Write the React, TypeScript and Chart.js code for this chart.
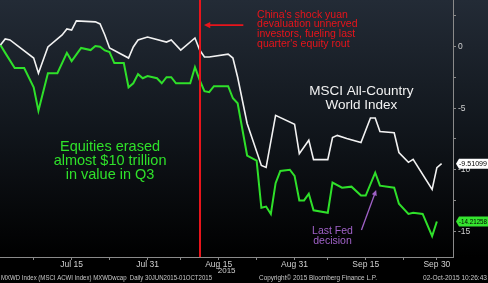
import React, { useEffect, useRef } from "react";
import { Chart, registerables } from "chart.js";

Chart.register(...registerables);

// Days counted from 30 Jun 2015 (day 0)
const xTickDays = [15, 31, 46, 62, 77, 92];
const xTickLabels = ["Jul 15", "Jul 31", "Aug 15", "Aug 31", "Sep 15", "Sep 30"];
const xYearLabel = "2015";
const xMinorDays = [7, 23, 38, 54, 69, 85];
const yMajorTicks = [0, -5, -10, -15];
const yMinorTicks = [2.5, -2.5, -7.5, -12.5];

// MSCI All-Country World Index, % change
const msciDays = [0, 1, 2, 7, 8, 10, 13, 14, 15, 16, 20, 21, 22, 23, 27, 28, 29, 31, 35, 36, 38, 41, 42, 43, 44, 48, 49, 50, 52, 55, 56, 58, 62, 63, 65, 66, 69, 70, 71, 73, 76, 78, 79, 80, 83, 84, 86, 87, 91, 92, 93];
const msciValues = [0.14, 0.63, 0.55, -0.92, -2.15, -0.02, 0.96, 1.45, 1.36, 2.1, 2.02, 1.85, 0.96, -0.1, -0.92, -0.02, 0.55, 0.79, 0.38, 0.55, -0.27, 0.71, -0.27, -0.84, -0.84, -0.6, -0.92, -2.48, -6.24, -9.66, -9.82, -5.58, -6.3, -8.7, -7.6, -9.18, -9.18, -7.38, -7.21, -7.46, -7.8, -5.8, -5.8, -6.9, -7.0, -8.6, -9.4, -9.15, -11.6, -9.83, -9.51];

// MXWD market cap, % change
const capDays = [0, 1, 3, 5, 7, 8, 10, 12, 14, 15, 17, 19, 20, 21, 22, 23, 24, 26, 27, 28, 29, 30, 31, 33, 34, 35, 36, 37, 40, 41, 42, 43, 44, 45, 48, 49, 50, 52, 54, 55, 56, 57, 58, 59, 61, 62, 63, 64, 65, 66, 69, 70, 72, 74, 76, 77, 79, 80, 83, 84, 86, 87, 89, 91, 92];
const capValues = [0.14, -0.5, -1.74, -1.74, -3.3, -5.2, -2.15, -2.15, -0.5, -1.17, -0.1, -0.27, 0.06, 0.0, -0.3, -0.43, -1.33, -1.33, -3.3, -2.97, -2.23, -2.56, -2.39, -2.56, -2.97, -2.48, -2.48, -2.97, -2.97, -1.66, -2.72, -3.62, -3.7, -3.21, -3.21, -4.19, -4.6, -8.85, -9.26, -13.1, -13.0, -13.6, -11.1, -10.1, -10.0, -10.5, -12.5, -12.5, -11.95, -13.3, -13.5, -11.05, -11.46, -11.38, -12.1, -12.1, -10.24, -11.3, -11.46, -12.77, -13.6, -13.5, -13.6, -15.4, -14.21];

const msciLastLabel = "-9.51099";
const capLastLabel = "-14.21258";
const yuanDay = 42;

const redNote = ["China's shock yuan", "devaluation unnerved", "investors, fueling last", "quarter's equity rout"];
const whiteNote = ["MSCI All-Country", "World Index"];
const greenNote = ["Equities erased", "almost $10 trillion", "in value in Q3"];
const purpleNote = ["Last Fed", "decision"];
const footerLeft = "MXWD Index (MSCI ACWI Index) MXWDwcap  Daily 30JUN2015-01OCT2015";
const footerMid = "Copyright\u00A9 2015 Bloomberg Finance L.P.";
const footerRight = "02-Oct-2015 10:26:43";

const WHITE = "#f2f2f2";
const GREEN = "#2fe02a";
const RED = "#e8141b";
const PURPLE = "#a062c8";
const FONT = "'Liberation Sans', Arial, sans-serif";

function arrow(ctx: CanvasRenderingContext2D, x1: number, y1: number, x2: number, y2: number, color: string, w: number, head: number) {
  const a = Math.atan2(y2 - y1, x2 - x1);
  ctx.save();
  ctx.strokeStyle = color;
  ctx.fillStyle = color;
  ctx.lineWidth = w;
  ctx.beginPath();
  ctx.moveTo(x1, y1);
  ctx.lineTo(x2 - Math.cos(a) * head * 0.7, y2 - Math.sin(a) * head * 0.7);
  ctx.stroke();
  ctx.beginPath();
  ctx.moveTo(x2, y2);
  ctx.lineTo(x2 - head * Math.cos(a - 0.45), y2 - head * Math.sin(a - 0.45));
  ctx.lineTo(x2 - head * Math.cos(a + 0.45), y2 - head * Math.sin(a + 0.45));
  ctx.closePath();
  ctx.fill();
  ctx.restore();
}

// draw text squeezed horizontally to a target width
function fitText(ctx: CanvasRenderingContext2D, text: string, x: number, y: number, width: number) {
  const m = ctx.measureText(text).width;
  const k = m > 0 ? width / m : 1;
  ctx.save();
  ctx.translate(x, y);
  ctx.scale(k, 1);
  ctx.textAlign = "left";
  ctx.fillText(text, 0, 0);
  ctx.restore();
}

function valueBox(ctx: CanvasRenderingContext2D, x: number, y: number, text: string, bg: string) {
  ctx.save();
  ctx.font = `8px ${FONT}`;
  ctx.textBaseline = "middle";
  const w = 488 - x;
  const h = 10;
  ctx.fillStyle = bg;
  ctx.beginPath();
  ctx.moveTo(x, y);
  ctx.lineTo(x + 3, y - h / 2);
  ctx.lineTo(x + w, y - h / 2);
  ctx.lineTo(x + w, y + h / 2);
  ctx.lineTo(x + 3, y + h / 2);
  ctx.closePath();
  ctx.fill();
  ctx.fillStyle = "#000";
  fitText(ctx, text, x + 3, y + 0.5, w - 4);
  ctx.restore();
}

const bgPlugin = {
  id: "bg",
  beforeDraw(chart: any) {
    const { ctx, chartArea: a } = chart;
    ctx.save();
    ctx.fillStyle = "#000";
    ctx.fillRect(0, 0, chart.width, chart.height);
    const g = ctx.createLinearGradient(0, a.top, 0, a.bottom);
    g.addColorStop(0, "#232b36");
    g.addColorStop(0.5, "#11161c");
    g.addColorStop(1, "#000000");
    ctx.fillStyle = g;
    ctx.fillRect(0, 0, chart.width, a.bottom);
    ctx.restore();
  },
};

const notesPlugin = {
  id: "notes",
  afterDatasetsDraw(chart: any) {
    const { ctx, chartArea: a } = chart;
    const xs = chart.scales.x;
    const ys = chart.scales.y;
    const X = (d: number) => xs.getPixelForValue(d);
    const Y = (v: number) => ys.getPixelForValue(v);
    ctx.save();
    // yuan devaluation line
    ctx.strokeStyle = RED;
    ctx.lineWidth = 2;
    ctx.beginPath();
    ctx.moveTo(Math.round(X(yuanDay)), a.top);
    ctx.lineTo(Math.round(X(yuanDay)), a.bottom);
    ctx.stroke();
    arrow(ctx, X(51.2), Y(1.76), X(42.9), Y(1.76), RED, 1.6, 7);

    ctx.textBaseline = "middle";
    ctx.fillStyle = RED;
    ctx.font = `10.5px ${FONT}`;
    ctx.textAlign = "left";
    redNote.forEach((t, i) => ctx.fillText(t, X(54.1), Y(2.6) + i * 9.8));

    ctx.fillStyle = WHITE;
    ctx.font = `13.5px ${FONT}`;
    ctx.textAlign = "center";
    whiteNote.forEach((t, i) => ctx.fillText(t, X(76.1), Y(-3.6) + i * 14));

    ctx.fillStyle = GREEN;
    ctx.font = `14.5px ${FONT}`;
    greenNote.forEach((t, i) => ctx.fillText(t, X(23.1), Y(-8.15) + i * 14));

    ctx.fillStyle = PURPLE;
    ctx.font = `10.5px ${FONT}`;
    purpleNote.forEach((t, i) => ctx.fillText(t, X(70), Y(-15.0) + i * 9.5));
    arrow(ctx, X(76.1), Y(-14.9), X(79.2), Y(-11.65), PURPLE, 1.3, 6);
    ctx.restore();
  },
  afterDraw(chart: any) {
    const { ctx } = chart;
    const xs = chart.scales.x;
    const ys = chart.scales.y;
    const ax = chart.chartArea.right + 3;
    valueBox(ctx, ax, ys.getPixelForValue(msciValues[msciValues.length - 1]), msciLastLabel, "#ffffff");
    valueBox(ctx, ax, ys.getPixelForValue(capValues[capValues.length - 1]), capLastLabel, "#35e52f");
    ctx.save();
    ctx.fillStyle = "#d0d0d0";
    ctx.font = `8px ${FONT}`;
    ctx.textBaseline = "middle";
    ctx.textAlign = "center";
    ctx.fillText(xYearLabel, xs.getPixelForValue(46) + 8, 270.5);
    ctx.fillStyle = "#c8c8c8";
    ctx.font = `7px ${FONT}`;
    fitText(ctx, footerLeft, 1, 278, 211);
    fitText(ctx, footerMid, 259, 278, 118);
    fitText(ctx, footerRight, 423, 278, 64);
    ctx.restore();
  },
};

export default function App() {
  const ref = useRef<HTMLCanvasElement | null>(null);
  useEffect(() => {
    if (!ref.current) return;
    const chart = new Chart(ref.current, {
      type: "line",
      data: {
        datasets: [
          {
            label: "MSCI All-Country World Index",
            data: msciDays.map((d, i) => ({ x: d, y: msciValues[i] })),
            borderColor: WHITE,
            borderWidth: 1.6,
            pointRadius: 0,
            tension: 0,
          },
          {
            label: "Market cap",
            data: capDays.map((d, i) => ({ x: d, y: capValues[i] })),
            borderColor: GREEN,
            borderWidth: 2,
            pointRadius: 0,
            tension: 0,
          },
        ],
      },
      options: {
        responsive: false,
        animation: false,
        devicePixelRatio: 1,
        layout: { padding: 0 },
        plugins: { legend: { display: false }, tooltip: { enabled: false }, title: { display: false } },
        scales: {
          x: {
            type: "linear",
            min: -0.1,
            max: 95.4,
            afterFit: (s: any) => {
              s.height = 26;
              s.paddingLeft = 0;
              s.paddingRight = 0;
            },
            afterBuildTicks: (s: any) => {
              s.ticks = [...xTickDays, ...xMinorDays].sort((p, q) => p - q).map((v) => ({ value: v }));
            },
            grid: { drawOnChartArea: false, drawTicks: true, tickLength: 3, color: "#8a8a8a" },
            border: { display: true, color: "#8a8a8a", width: 1 },
            ticks: {
              autoSkip: false,
              maxRotation: 0,
              padding: 0,
              color: "#d0d0d0",
              font: { size: 8.5, family: FONT },
              callback: (v: any) => {
                const i = xTickDays.indexOf(Number(v));
                return i < 0 ? "" : xTickLabels[i];
              },
            },
          },
          y: {
            position: "right",
            min: -17.1,
            max: 3.8,
            afterFit: (s: any) => {
              s.width = 35;
              s.paddingTop = 0;
              s.paddingBottom = 0;
            },
            afterBuildTicks: (s: any) => {
              s.ticks = [...yMinorTicks, ...yMajorTicks].sort((p, q) => q - p).map((v) => ({ value: v }));
            },
            grid: { drawOnChartArea: false, drawTicks: true, tickLength: 3, color: "#8a8a8a" },
            border: { display: true, color: "#8a8a8a", width: 1 },
            ticks: {
              autoSkip: false,
              padding: 2,
              color: "#d0d0d0",
              font: { size: 8.5, family: FONT },
              callback: (v: any) => (yMajorTicks.includes(Number(v)) ? String(v) : ""),
            },
          },
        },
      },
      plugins: [bgPlugin, notesPlugin],
    } as any);
    return () => chart.destroy();
  }, []);
  return (
    <div style={{ position: "fixed", left: 0, top: 0, width: 488, height: 283, background: "#000" }}>
      <canvas ref={ref} width={488} height={283} style={{ display: "block" }} />
    </div>
  );
}
